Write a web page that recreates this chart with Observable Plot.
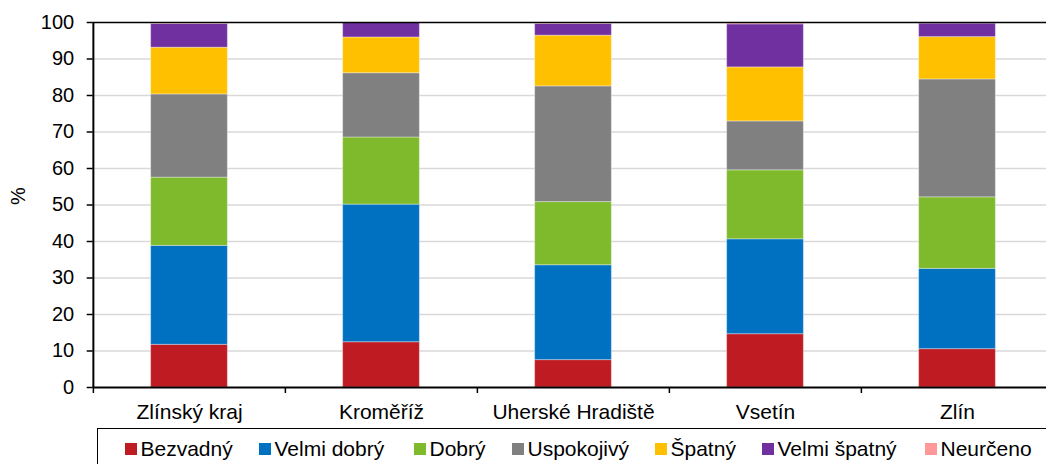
<!DOCTYPE html>
<html><head><meta charset="utf-8">
<script src="https://cdn.jsdelivr.net/npm/d3@7"></script>
<script src="https://cdn.jsdelivr.net/npm/@observablehq/plot@0.6"></script>
<style>
html,body{margin:0;padding:0;background:#fff;overflow:hidden}
#wrap{position:relative;width:1046px;height:464px;overflow:hidden;font-family:"Liberation Sans",Arial,sans-serif;color:#000}
#chart svg{display:block;overflow:visible}
#legend{position:absolute;left:97px;top:428px;width:1000px;height:60px;border:1.5px solid #000;box-sizing:border-box}
.item{position:absolute;top:0;display:flex;align-items:center;white-space:nowrap;font-size:21px;line-height:21px}
.sw{width:12px;height:12px;margin-right:4px;flex:none}
</style></head>
<body><div id="wrap"><div id="chart"></div><div id="legend"></div></div>
<script>
const categories = ["Zlínský kraj","Kroměříž","Uherské Hradiště","Vsetín","Zlín"];
const series = ["Bezvadný","Velmi dobrý","Dobrý","Uspokojivý","Špatný","Velmi špatný","Neurčeno"];
const colors = ["#BE1B22","#0070C0","#7FBA2C","#808080","#FFC000","#7030A0","#FF9999"];
const bezvadny    = [11.7, 12.4,  7.5, 14.6, 10.5];
const velmiDobry  = [27.1, 37.7, 26.0, 26.0, 22.0];
const dobry       = [18.7, 18.4, 17.3, 18.9, 19.6];
const uspokojivy  = [22.8, 17.6, 31.7, 13.4, 32.3];
const spatny      = [12.8,  9.8, 13.9, 14.8, 11.6];
const velmiSpatny = [ 6.5,  4.1,  3.2, 11.8,  3.7];
const neurceno    = [ 0.4,  0.0,  0.4,  0.5,  0.3];
const yTicks = [0,10,20,30,40,50,60,70,80,90,100];
const yLabel = "%";

const values = [bezvadny, velmiDobry, dobry, uspokojivy, spatny, velmiSpatny, neurceno];
const data = [];
series.forEach((s, si) => categories.forEach((c, ci) => data.push({cat: c, series: s, value: values[si][ci]})));

const W = 1046, H = 428;
const left = 92.7, right = 1054;
const bw = (right - left) / categories.length;
const inset = (bw - 77) / 2;

const chart = Plot.plot({
  width: W, height: H,
  marginTop: 22, marginBottom: 41, marginLeft: left, marginRight: 0,
  style: {fontFamily: "'Liberation Sans', Arial, sans-serif", fontSize: "20px", color: "#000", background: "#fff", overflow: "visible"},
  x: {domain: categories, range: [left, right], padding: 0},
  y: {domain: [0, 100]},
  color: {domain: series, range: colors},
  marks: [
    Plot.ruleY(yTicks.filter(t => t > 0 && t < 100), {stroke: "#d9d9d9", strokeWidth: 1.5}),
    Plot.barY(data, {x: "cat", y: "value", fill: "series", insetLeft: inset, insetRight: inset,
      stroke: "#fff", strokeOpacity: 0.35, strokeWidth: 1}),
    Plot.ruleY([100], {stroke: "#000", strokeWidth: 1.5}),
    Plot.ruleY([0], {stroke: "#000", strokeWidth: 2}),
    Plot.ruleX([categories[0]], {dx: -bw / 2, stroke: "#000", strokeWidth: 2}),
    Plot.axisY({ticks: yTicks, tickSize: 6, tickPadding: 13, fontSize: 20, strokeWidth: 1.5, label: null}),
    Plot.axisX({tickSize: 0, tickPadding: 17, fontSize: 21, label: null}),
    Plot.axisX({tickSize: 6, tickFormat: () => "", dx: -bw / 2, strokeWidth: 1.5, label: null}),
    Plot.text([yLabel], {frameAnchor: "left", dx: 18 - left, rotate: -90, fontSize: 20, fill: "#000"})
  ]
});
document.getElementById("chart").appendChild(chart);

// legend: swatch left edges (page x), laid out relative to the box
const legend = document.getElementById("legend");
const swatchX = [125, 259, 414, 512, 655, 762, 925];
series.forEach((s, i) => {
  const it = document.createElement("div");
  it.className = "item";
  it.style.left = (swatchX[i] - 97 - 1.5) + "px";
  it.style.top = "9px";
  const sw = document.createElement("span");
  sw.className = "sw";
  sw.style.background = colors[i];
  const tx = document.createElement("span");
  tx.textContent = s;
  it.appendChild(sw); it.appendChild(tx);
  legend.appendChild(it);
});
</script></body></html>
